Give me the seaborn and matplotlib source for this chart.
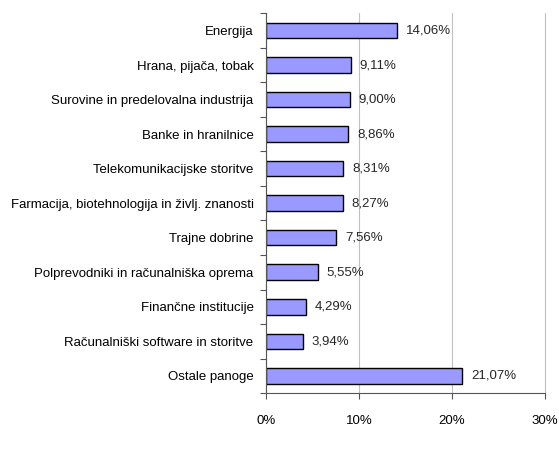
import matplotlib
matplotlib.use("Agg")
import matplotlib.pyplot as plt
import seaborn as sns
import pandas as pd
import numpy as np
from matplotlib.ticker import FixedLocator, PercentFormatter

categories = [
    "Energija",
    "Hrana, pijača, tobak",
    "Surovine in predelovalna industrija",
    "Banke in hranilnice",
    "Telekomunikacijske storitve",
    "Farmacija, biotehnologija in življ. znanosti",
    "Trajne dobrine",
    "Polprevodniki in računalniška oprema",
    "Finančne institucije",
    "Računalniški software in storitve",
    "Ostale panoge",
]
values = [14.06, 9.11, 9.00, 8.86, 8.31, 8.27, 7.56, 5.55, 4.29, 3.94, 21.07]
xticks = [0, 10, 20, 30]

df = pd.DataFrame({"cat": categories, "val": values})

sns.set_theme(style="white")
plt.rcParams['font.family'] = ['Liberation Sans', 'DejaVu Sans']

fig = plt.figure(figsize=(5.59, 4.55), dpi=100)
ax = fig.add_axes([0.476, 0.136, 0.499, 0.835])

sns.barplot(data=df, y="cat", x="val", orient="h", color="#9999FF",
            edgecolor="black", linewidth=1.0, width=0.45, saturation=1, ax=ax)

ax.set_xlim(0, 30)
ax.set_ylim(len(categories) - 0.5, -0.5)
ax.set_xticks(xticks)
ax.xaxis.set_major_formatter(PercentFormatter(decimals=0))
ax.set_xlabel("")
ax.set_ylabel("")
ax.xaxis.grid(True, color="#c0c0c0", linewidth=0.8)
for gl in ax.get_xgridlines():
    gl.set_clip_on(False)
ax.set_axisbelow(True)

for s in ["top", "right"]:
    ax.spines[s].set_visible(False)
for s in ["left", "bottom"]:
    ax.spines[s].set_color("#555555")
    ax.spines[s].set_linewidth(0.8)

ax.tick_params(axis="y", which="major", left=False, length=0, labelsize=9.5, pad=9, colors="black")
ax.yaxis.set_minor_locator(FixedLocator(np.arange(-0.5, len(categories), 1.0)))
ax.tick_params(axis="y", which="minor", left=True, length=4, direction="out",
               color="#555555", width=0.8)
ax.tick_params(axis="x", which="major", bottom=True, length=4, direction="out",
               labelsize=9.5, pad=12, color="#555555", width=0.8, labelcolor="black")

for i, v in enumerate(values):
    ax.text(v + 0.95, i, f"{v:.2f}%".replace(".", ","), va="center", ha="left", fontsize=9.5)

fig.savefig("out.png", dpi=100)
